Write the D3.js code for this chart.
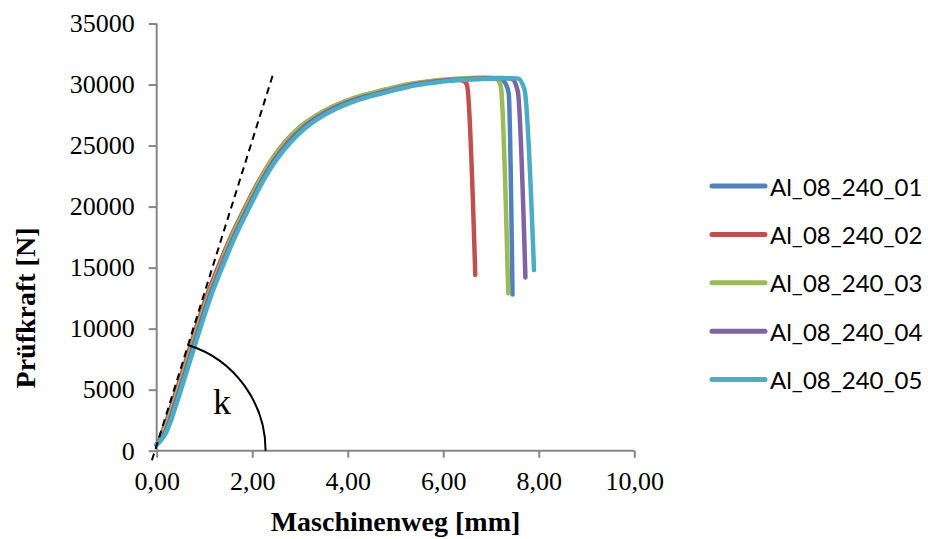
<!DOCTYPE html>
<html>
<head>
<meta charset="utf-8">
<script src="https://cdn.jsdelivr.net/npm/d3@7"></script>
<style>
  html, body { margin: 0; padding: 0; background: #fff; }
  svg { display: block; }
</style>
</head>
<body>
<svg id="chart" width="928" height="539"></svg>
<script>
// Tensile test records: machine travel [mm] vs. test force [N]
const seriesNames = ["Al_08_240_01", "Al_08_240_02", "Al_08_240_03", "Al_08_240_04", "Al_08_240_05"];
const seriesColors = ["#4F81BD", "#C0504D", "#9BBB59", "#8064A2", "#4BACC6"];

const s01 = [[0.00,500],[0.08,950],[0.16,1600],[0.26,2600],[0.36,3800],[0.46,5000],[0.66,7500],[0.86,10000],[1.08,12600],[1.32,15000],[1.60,17600],[1.90,20000],[2.15,21900],[2.44,23800],[2.74,25300],[3.04,26450],[3.34,27300],[3.68,28050],[3.98,28550],[4.33,29000],[4.68,29350],[5.03,29700],[5.38,30000],[5.73,30200],[6.08,30350],[6.48,30450],[6.88,30510],[7.20,30480],[7.30,30100],[7.37,29300],[7.45,12800]];
const s02 = [[0.00,500],[0.07,1000],[0.13,1650],[0.22,2600],[0.32,3800],[0.42,5000],[0.62,7500],[0.82,10000],[1.04,12600],[1.28,15000],[1.56,17600],[1.86,20000],[2.11,21900],[2.40,23800],[2.70,25350],[3.00,26500],[3.30,27350],[3.64,28100],[3.94,28600],[4.28,29050],[4.62,29400],[4.98,29750],[5.32,30030],[5.68,30230],[6.02,30370],[6.30,30420],[6.45,30250],[6.50,29900],[6.67,14400]];
const s03 = [[0.00,500],[0.08,950],[0.15,1600],[0.25,2600],[0.35,3800],[0.45,5000],[0.65,7500],[0.85,10000],[1.07,12600],[1.31,15000],[1.58,17600],[1.88,20000],[2.13,21950],[2.42,23900],[2.72,25400],[3.02,26600],[3.32,27400],[3.66,28150],[3.96,28650],[4.30,29100],[4.65,29450],[5.00,29800],[5.35,30080],[5.70,30280],[6.05,30420],[6.45,30520],[6.85,30570],[7.08,30520],[7.17,30250],[7.21,29700],[7.36,12900]];
const s04 = [[0.00,500],[0.09,950],[0.18,1550],[0.28,2600],[0.38,3800],[0.48,5000],[0.68,7500],[0.88,10000],[1.10,12600],[1.34,15000],[1.62,17600],[1.92,20000],[2.17,21900],[2.46,23800],[2.76,25300],[3.06,26450],[3.36,27300],[3.70,28050],[4.00,28550],[4.35,29000],[4.70,29350],[5.05,29700],[5.40,30000],[5.75,30200],[6.10,30350],[6.50,30450],[6.90,30520],[7.25,30540],[7.44,30450],[7.56,29450],[7.72,14200]];
const s05 = [[0.00,500],[0.10,900],[0.20,1500],[0.31,2600],[0.41,3800],[0.51,5000],[0.71,7500],[0.91,10000],[1.13,12600],[1.37,15000],[1.65,17600],[1.95,20000],[2.20,21900],[2.50,23800],[2.80,25250],[3.10,26400],[3.40,27250],[3.75,28000],[4.05,28500],[4.40,28950],[4.74,29300],[5.10,29650],[5.44,29950],[5.80,30150],[6.14,30300],[6.50,30400],[6.90,30480],[7.30,30520],[7.56,30500],[7.70,29600],[7.90,14800]];
const seriesValues = [s01, s02, s03, s04, s05];

const xTicks = [0, 2, 4, 6, 8, 10];
const yTicks = [0, 5000, 10000, 15000, 20000, 25000, 30000, 35000];

// Tangent to the elastic range and the angle marker "k"
const tangentLine = [[-0.10, -785], [2.43, 30770]];
const angleCenter = [-0.04, 0];
const angleRadiusEnd = 2.28;   // x where the arc meets the axis
const angleLabel = "k";

const svg = d3.select("#chart");
const x = d3.scaleLinear().domain([0, 10]).range([156.7, 634.3]);
const y = d3.scaleLinear().domain([0, 35000]).range([450.7, 23.5]);

const serif = "'Liberation Serif', 'Times New Roman', serif";
const axisColor = "#868686";

// X axis
const gx = svg.append("g").attr("transform", `translate(0,${y(0)})`)
  .call(d3.axisBottom(x).tickValues(xTicks).tickSize(7).tickPadding(13.5)
    .tickFormat(d => d3.format(".2f")(d).replace(".", ",")));
// Y axis
const gy = svg.append("g").attr("transform", `translate(${x(0)},0)`)
  .call(d3.axisLeft(y).tickValues(yTicks).tickSize(8).tickPadding(14)
    .tickFormat(d3.format("d")));

[gx, gy].forEach(g => {
  g.select(".domain").attr("stroke", axisColor).attr("stroke-width", 2);
  g.selectAll(".tick line").attr("stroke", axisColor).attr("stroke-width", 2);
  g.selectAll(".tick text").attr("fill", "#000")
    .style("font-family", serif).style("font-size", "26px");
});
gx.select(".domain").attr("d", `M${x(0)},0H${x(10)}`);
gy.select(".domain").attr("d", `M0,${y(0)}V${y(35000)}`);

// Axis titles
svg.append("text")
  .attr("x", (x(0) + x(10)) / 2).attr("y", 531)
  .attr("text-anchor", "middle")
  .style("font-family", serif).style("font-size", "28px").style("font-weight", "bold")
  .text("Maschinenweg [mm]");
svg.append("text")
  .attr("transform", "translate(35,308) rotate(-90)")
  .attr("text-anchor", "middle")
  .style("font-family", serif).style("font-size", "28px").style("font-weight", "bold")
  .text("Prüfkraft [N]");

// Data lines
const line = d3.line().x(d => x(d[0])).y(d => y(d[1])).curve(d3.curveMonotoneX);
svg.append("g").selectAll("path").data(seriesValues).join("path")
  .attr("d", line)
  .attr("fill", "none")
  .attr("stroke", (d, i) => seriesColors[i])
  .attr("stroke-width", 4.5)
  .attr("stroke-linecap", "round")
  .attr("stroke-linejoin", "round");

// Tangent (dashed)
svg.append("path")
  .attr("d", d3.line().x(d => x(d[0])).y(d => y(d[1]))(tangentLine))
  .attr("fill", "none").attr("stroke", "#000")
  .attr("stroke-width", 2).attr("stroke-dasharray", "7,5");

// Angle arc between axis and tangent
const cx = x(angleCenter[0]), cy = y(angleCenter[1]);
const r = x(angleRadiusEnd) - cx;
const theta = Math.atan2(y(tangentLine[0][1]) - y(tangentLine[1][1]), x(tangentLine[1][0]) - x(tangentLine[0][0]));
const arcPath = d3.path();
arcPath.moveTo(cx + r, cy);
arcPath.arc(cx, cy, r, 0, -theta, true);
svg.append("path").attr("d", arcPath.toString())
  .attr("fill", "none").attr("stroke", "#000").attr("stroke-width", 2);
svg.append("text")
  .attr("x", 213).attr("y", 414)
  .style("font-family", serif).style("font-size", "36px")
  .text(angleLabel);

// Legend
const legend = svg.append("g").attr("transform", "translate(712,186)");
const rows = legend.selectAll("g").data(seriesNames).join("g")
  .attr("transform", (d, i) => `translate(0,${i * 48.4})`);
rows.append("line")
  .attr("x1", 0).attr("x2", 53).attr("y1", 0).attr("y2", 0)
  .attr("stroke", (d, i) => seriesColors[i])
  .attr("stroke-width", 5).attr("stroke-linecap", "round");
rows.append("text")
  .attr("x", 58).attr("y", 9.5)
  .style("font-family", "Lato, 'Open Sans', sans-serif").style("font-size", "24px")
  .attr("fill", "#000")
  .text(d => d);
</script>
</body>
</html>
